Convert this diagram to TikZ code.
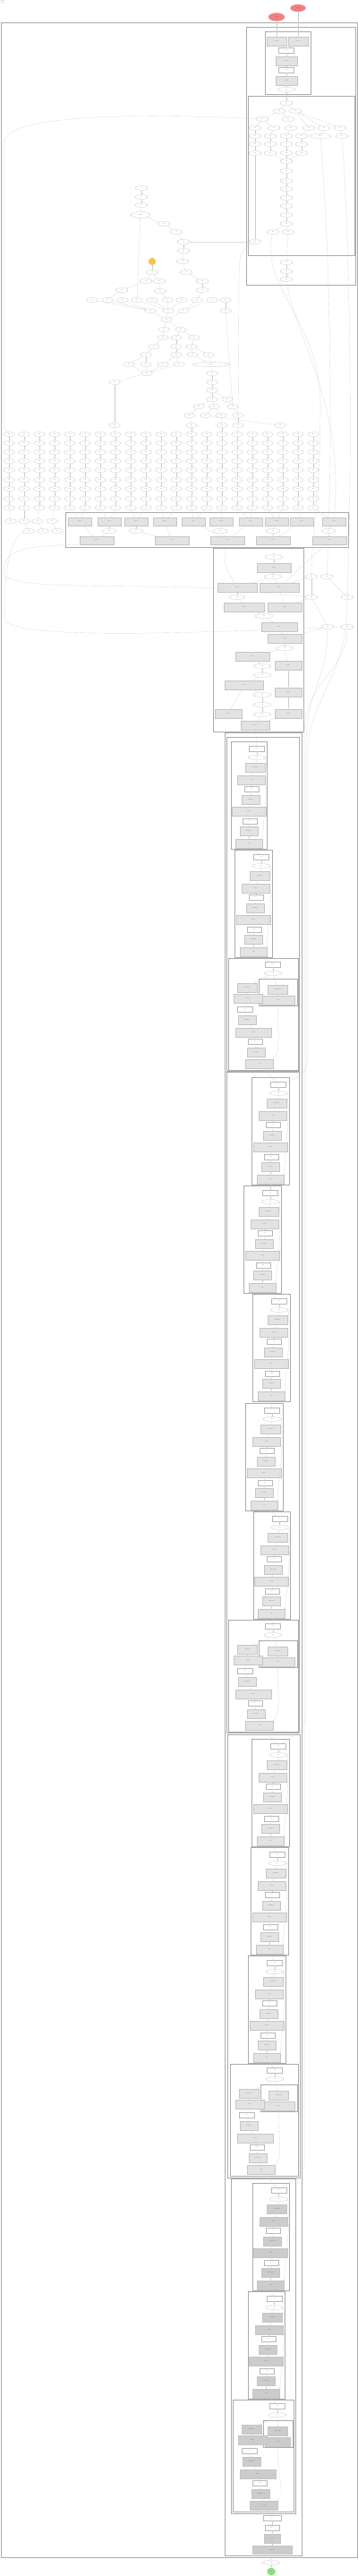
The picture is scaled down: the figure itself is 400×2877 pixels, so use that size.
\documentclass[tikz,border=0pt]{standalone}
\usepackage{tikz}
\usetikzlibrary{shapes.geometric,arrows.meta}

\definecolor{inred}{RGB}{240,128,128}
\definecolor{outgreen}{RGB}{128,230,120}
\definecolor{constyellow}{RGB}{245,200,70}

\pgfdeclarelayer{bg}
\pgfsetlayers{bg,main}

\tikzset{
  op/.style={ellipse, draw=gray!55, line width=0.2mm, fill=white, inner sep=0pt,
    minimum width=14mm, minimum height=5mm, font=\fontsize{2.6}{3}\selectfont},
  tensor/.style={rectangle, draw=gray!55, line width=0.2mm, fill=white, inner sep=0pt,
    minimum width=17mm, minimum height=5.5mm, font=\fontsize{2.6}{3}\selectfont},
  layer/.style={rectangle, draw=gray!45, line width=0.2mm, fill=gray!22, inner sep=0pt,
    minimum width=22mm, minimum height=10mm, align=center, font=\fontsize{2.6}{3}\selectfont},
  flow/.style={draw=gray!40, line width=0.15mm, -{Stealth[length=0.8mm,width=0.6mm]}},
  frame/.style={draw=gray!65, line width=0.8mm},
  framelabel/.style={anchor=north west, inner sep=0.5mm, font=\fontsize{2.6}{3}\selectfont, text=gray!70!black},
}

\begin{document}
\begin{tikzpicture}[x=1mm,y=-1mm]
  \begin{pgfonlayer}{bg}
    \fill[white] (0,0) rectangle (400,2877);
  \end{pgfonlayer}
  \useasboundingbox (0,0) rectangle (400,2877);

  \node[anchor=north west, align=left, inner sep=0pt, font=\fontsize{3}{3.6}\selectfont] (title) at (1,1) {model\\graph};

  % inputs
  \node[ellipse, draw=red!50, fill=inred, minimum width=17mm, minimum height=8mm, inner sep=0pt, font=\fontsize{2.6}{3}\selectfont] (in1) at (333,9) {input};
  \node[ellipse, draw=red!50, fill=inred, minimum width=18mm, minimum height=9mm, inner sep=0pt, font=\fontsize{2.6}{3}\selectfont] (in2) at (309,19) {image};

  % clusters
  \begin{pgfonlayer}{bg}
    \draw[frame] (1,25) rectangle (399,2856);
    \draw[frame] (275,30) rectangle (397,318);
    \draw[frame] (296,35) rectangle (347,105);
    \draw[frame] (277,107) rectangle (396,285);
    \draw[frame] (73,572) rectangle (389,611);
    \draw[frame] (238,612) rectangle (339,817);
    \draw[frame] (251,818) rectangle (337,2854);
    \draw[frame] (253,823) rectangle (334,1196);
    \draw[frame] (253,1197) rectangle (334,1935);
    \draw[frame] (254,1937) rectangle (335,2432);
    \draw[frame] (258,2433) rectangle (330,2807);
  \end{pgfonlayer}
  \node[framelabel] (lblmain) at (1,25) {model};
  \node[framelabel] (lblenc) at (275,30) {encoder};
  \node[framelabel] (lblstem) at (296,35) {stem};
  \node[framelabel] (lblfeat) at (277,107) {features};
  \node[framelabel] (lblhead) at (73,572) {heads};
  \node[framelabel] (lblfuse) at (238,612) {fuse};
  \node[framelabel] (lblnet) at (251,818) {backbone};
  \node[framelabel] (lbls1) at (253,823) {layer1};
  \node[framelabel] (lbls2) at (253,1197) {layer2};
  \node[framelabel] (lbls3) at (254,1937) {layer3};
  \node[framelabel] (lbls4) at (258,2433) {layer4};

  % stem
  \node[layer] (gA1) at (309,46) {Conv2D};
  \node[layer] (gA2) at (333,46) {Conv2D};
  \node[tensor] (wA1) at (320,56) {Concat};
  \node[layer, minimum width=24mm] (gA3) at (320,68) {Conv2D};
  \node[tensor] (wA2) at (320,78) {Relu};
  \node[layer, minimum width=24mm] (gA4) at (320,90) {Conv2D};
  \node[op, minimum width=20mm] (eA1) at (320,100) {Relu};
  \foreach \a/\b in {in2/gA1, in1/gA2, gA1/wA1, gA2/wA1, wA1/gA3, gA3/wA2, wA2/gA4, gA4/eA1}
    \draw[flow] (\a) -- (\b);

  % features
  \foreach \nm/\x/\y in {b1/320/115, b2/312/124, b3/330/124, b4/293/133, b5/322/133,
      b6/285/143, b7/306/143, b8/325/143, b9/345/143, b10/362/143, b11/380/143,
      b12/285/152, b13/302/152, b14/320/152, b15/337/152, b17/382/152,
      b18/285/161, b19/302/161, b20/320/161, b21/337/161,
      b22/285/171, b23/302/171, b24/320/171, b25/337/171,
      b26/320/180, b27/320/191, b28/320/202, b29/320/211, b30/320/221,
      b31/320/230, b32/320/240, b33/320/250, b34/305/259, b35/322/259, b36/285/270,
      r1/320/293, r2/320/303, r3/320/312}
    \node[op] (\nm) at (\x,\y) {Mul};
  \node[op, minimum width=24mm] (b16) at (358,152) {Reshape};
  \foreach \a/\b in {eA1/b1, b1/b2, b1/b3, b2/b4, b2/b5, b4/b6, b4/b7, b5/b8, b3/b9, b3/b10, b3/b11,
      b6/b12, b7/b13, b8/b14, b9/b15, b10/b16, b11/b17, b12/b18, b13/b19, b14/b20, b15/b21,
      b18/b22, b19/b23, b20/b24, b21/b25, b23/b26, b24/b26, b25/b26, b26/b27, b27/b28,
      b28/b29, b29/b30, b30/b31, b31/b32, b32/b33, b33/b34, b33/b35, b22/b36, b35/r1, r1/r2, r2/r3}
    \draw[flow] (\a) -- (\b);

  % upper tree
  \foreach \nm/\x/\y in {t1/158/210, t2/158/220, t3/158/229, t5/183/250, t6/197/259, t7/205/270,
      t8/205/280, t9/204/292, t10/208/304, t11/226/314, t12/226/324,
      t13/170/304, t14/163/314, t15/178/314, t16/136/324, t17/179/325}
    \node[op] (\nm) at (\x,\y) {Add};
  \node[op, minimum width=22mm, minimum height=7mm] (t4) at (157,240) {MatMul};
  \node[circle, draw=orange!60, fill=constyellow, minimum size=8mm, inner sep=0pt, font=\fontsize{2.6}{3}\selectfont] (y1) at (170,292) {w};

  \foreach \nm/\x/\y in {u1/103/335, u2/120/335, u3/137/335, u4/153/335, u5/170/335, u6/187/335,
      u7/203/335, u8/220/335, u9/237/335, u10/252/335, u11/168/347, u12/188/347, u13/205/347,
      u14/252/347, u15/186/357, u16/183/368, u17/202/368, u18/182/377, u19/197/377, u20/217/377,
      u21/172/387, u22/197/387, u23/214/387, u24/163/396, u25/197/396, u26/215/396, u27/233/396,
      u28/144/407, u29/163/407, u30/182/407, u31/200/407, u33/164/417, u34/237/417,
      u35/128/427, u36/237/427, u37/237/436, u38/237/446, u39/254/446, u40/222/454, u41/239/454,
      u42/260/454, u43/212/464, u44/230/464, u45/247/464, u46/266/464, u47/128/475, u48/214/475,
      u49/248/475, u50/266/475, u51/313/475}
    \node[op, minimum width=13mm] (\nm) at (\x,\y) {Mul};
  \node[op, minimum width=42mm] (u32) at (236,407) {Reshape};

  \foreach \a/\b in {t1/t2, t2/t3, t3/t4, t4/t5, t5/t6, t6/t7, t7/t8, t8/t9, t9/t10, t10/t11, t11/t12,
      y1/t13, t13/t14, t13/t15, t14/t16, t15/t17, t16/u2, t17/u6, t12/u8, t4/u4,
      u1/u11, u2/u11, u3/u11, u4/u12, u5/u12, u6/u12, u7/u12, u8/u13, u9/u13, u10/u14,
      u11/u15, u12/u15, u13/u15, u15/u16, u15/u17, u16/u18, u17/u19, u17/u20, u18/u21, u19/u22,
      u20/u23, u21/u24, u22/u25, u23/u26, u23/u27, u24/u28, u24/u29, u25/u30, u25/u31,
      u28/u33, u29/u33, u30/u33, u31/u33, u26/u32, u27/u32, u32/u34, u34/u36, u36/u37, u37/u38,
      u37/u39, u38/u40, u38/u41, u39/u42, u14/u42, u33/u35, u35/u47, u40/u43, u41/u44, u41/u45,
      u42/u46, u43/u48, u45/u49, u46/u50, u44/u51}
    \draw[flow] (\a) -- (\b);

  % dense grid of small ops
  \foreach \gy [count=\r] in {485,495,505,515,525,536,546,557,567}{
    \foreach \gx [count=\c] in {10,27,44,61,78,95,112,129,146,163,180,197,214,231,248,265,282,299,316,333,350}{
      \node[op, minimum width=13mm] (g\r-\c) at (\gx,\gy) {Mul};
    }
  }
  \foreach \r [evaluate=\r as \s using int(\r+1)] in {1,...,8}{
    \foreach \c in {1,...,21}{
      \draw[flow] (g\r-\c) -- (g\s-\c);
    }
  }
  \foreach \nm/\x/\y in {h1-1/12/582, h1-2/27/582, h1-3/42/582, h1-4/58/582,
      h2-2/32/593, h2-3/48/593, h2-4/64/593}
    \node[op, minimum width=13mm] (\nm) at (\x,\y) {Add};
  \foreach \a/\b in {g9-1/h1-1, g9-2/h1-2, g9-3/h1-3, g9-4/h1-4, h1-2/h2-2, h1-3/h2-3, h1-4/h2-4,
      u47/g1-8, u48/g1-13, u49/g1-15, u50/g1-16, u51/g1-19}
    \draw[flow] (\a) -- (\b);

  % heads
  \foreach \nm/\x in {cA1/89, cA2/122, cA3/152, cA4/184, cA5/216, cA6/247, cA7/280, cA8/309, cA9/337, cA10/373}
    \node[layer, minimum width=26mm, minimum height=9mm] (\nm) at (\x,582.5) {Conv2D};
  \foreach \nm/\x in {cB1/122, cB2/152, cB3/246, cB4/305, cB5/367}
    \node[op, minimum width=16mm] (\nm) at (\x,593) {Relu};
  \foreach \nm/\x in {cC1/108, cC2/192, cC3/254, cC4/305, cC5/368}
    \node[layer, minimum width=38mm, minimum height=9mm] (\nm) at (\x,603.5) {Conv2D};
  \foreach \a/\b in {g9-5/cA1, g9-6/cA1, g9-7/cA2, g9-8/cA2, g9-9/cA3, g9-10/cA3, g9-11/cA4,
      g9-12/cA4, g9-13/cA5, g9-14/cA5, g9-15/cA6, g9-16/cA7, g9-17/cA7, g9-18/cA8, g9-19/cA8,
      g9-20/cA9, g9-21/cA10,
      cA2/cB1, cA3/cB2, cA6/cB3, cA8/cB4, cA10/cB5, cA1/cC1, cB1/cC1, cB2/cC2, cA4/cC2,
      cA5/cC3, cA7/cC3, cB3/cC3, cB4/cC4, cA9/cC4, cB5/cC5}
    \draw[flow] (\a) -- (\b);

  % fuse
  \foreach \nm/\x/\y/\w in {d1/306/622/20, d3/305/644/20, d6/265/667/18, d9/295/688/20,
      d12/318/724/20, d14/293/744/20, d16/293/754/20, d19/293/776/20, d20/293/787/20, d22/293/798/20}
    \node[op, minimum width=\w mm] (\nm) at (\x,\y) {Relu};
  \foreach \nm/\x/\y/\w in {d2/306/634/38, d4/265/656/44, d5/312/656/44, d7/273/678/45, d8/318/678/38,
      d10/312/700/40, d11/318/713/38, d13/282/733/38, d15/322/743/30, d17/273/765/43,
      d18/322/773/30, d21/255/797/30, d23/322/797/30, d24/285/810/32}
    \node[layer, minimum width=\w mm] (\nm) at (\x,\y) {Conv2D};
  \foreach \nm/\x/\y in {e1/348/644, e2/365/644, e3/348/667, e4/388/667, e5/366/700, e6/388/700}
    \node[op] (\nm) at (\x,\y) {Mul};
  \foreach \a/\b in {cC4/d1, cC5/d5, d1/d2, d2/d3, d3/d4, d3/d5, d4/d6, d6/d7, d5/d8, d7/d9, d8/d9,
      d9/d10, d10/d11, d11/d12, d12/d13, d12/d15, d13/d14, d14/d16, d15/d18, d16/d17, d17/d19,
      d19/d20, d17/d21, d18/d23, d20/d22, d21/d24, d22/d24, d23/d24,
      e1/d5, e1/e3, e2/e4, e3/d8, e3/e5, e5/d11}
    \draw[flow] (\a) -- (\b);

  % normal residual blocks
  \foreach \n/\xa/\xb/\ya/\tone in {1/258/298/828/22, 2/262/304/949/22, 4/281/323/1203/22,
      5/272/314/1324/22, 6/282/324/1445/22, 7/274/316/1567/22, 8/283/324/1688/22,
      10/281/323/1942/22, 11/280/322/2063/22, 12/277/319/2184/22, 14/282/323/2438/40,
      15/277/318/2559/40}{
    \pgfmathsetmacro{\cx}{(\xa+\xb)/2}
    \begin{pgfonlayer}{bg}
      \draw[frame] (\xa,\ya) rectangle (\xb,\ya+120);
    \end{pgfonlayer}
    \node[framelabel] (blk\n) at (\xa,\ya) {block};
    \node[tensor] (k\n-1) at (\cx+9,\ya+8) {Pad};
    \node[op, minimum width=20mm] (k\n-2) at (\cx+9,\ya+18) {Relu};
    \node[layer, fill=gray!\tone] (k\n-3) at (\cx+7,\ya+29) {BatchNorm};
    \node[layer, fill=gray!\tone, minimum width=31mm] (k\n-4) at (\cx+3,\ya+43) {Conv2D};
    \node[tensor, minimum width=16mm] (k\n-5) at (\cx+3,\ya+53) {Pad};
    \node[layer, fill=gray!\tone, minimum width=20mm] (k\n-6) at (\cx+2,\ya+65) {BatchNorm};
    \node[layer, fill=gray!\tone, minimum width=38mm] (k\n-7) at (\cx,\ya+78) {Conv2D};
    \node[tensor, minimum width=16mm] (k\n-8) at (\cx+1,\ya+89) {Relu};
    \node[layer, fill=gray!\tone, minimum width=20mm] (k\n-9) at (\cx,\ya+100) {BatchNorm};
    \node[layer, fill=gray!\tone, minimum width=30mm, alias=k\n-end] (k\n-10) at (\cx,\ya+114) {Add};
    \foreach \i [evaluate=\i as \j using int(\i+1)] in {1,...,9}
      \draw[flow] (k\n-\i) -- (k\n-\j);
    \draw[flow] (k\n-2.east) .. controls +(3,30) and +(3,-40) .. (k\n-10.north east);
  }

  % downsampling blocks
  \foreach \n/\xa/\xb/\ya/\tone in {3/255/333/1070/22, 9/255/333/1809/22, 13/257/333/2305/22,
      16/260/328/2680/40}{
    \pgfmathsetmacro{\sx}{(\xa+\xb+33)/2}
    \pgfmathsetmacro{\sw}{\xb-\xa-40}
    \begin{pgfonlayer}{bg}
      \draw[frame] (\xa,\ya) rectangle (\xb,\ya+125);
      \draw[frame] (\xa+34,\ya+23) rectangle (\xb-1,\ya+53);
    \end{pgfonlayer}
    \node[framelabel] (blk\n) at (\xa,\ya) {block};
    \node[framelabel] (sc\n) at (\xa+34,\ya+23) {shortcut};
    \node[tensor] (k\n-1) at (\xa+50,\ya+7) {Pad};
    \node[op, minimum width=20mm] (k\n-2) at (\xa+50,\ya+17) {Relu};
    \node[layer, fill=gray!\tone] (k\n-3) at (\sx,\ya+35) {BatchNorm};
    \node[layer, fill=gray!\tone, minimum width=\sw mm] (k\n-4) at (\sx,\ya+47) {Conv2D};
    \node[layer, fill=gray!\tone] (k\n-5) at (\xa+21,\ya+33) {BatchNorm};
    \node[layer, fill=gray!\tone, minimum width=32mm] (k\n-6) at (\xa+22,\ya+45) {Conv2D};
    \node[tensor] (k\n-7) at (\xa+19,\ya+57) {Pad};
    \node[layer, fill=gray!\tone, minimum width=20mm] (k\n-8) at (\xa+21,\ya+69) {BatchNorm};
    \node[layer, fill=gray!\tone, minimum width=40mm] (k\n-9) at (\xa+28,\ya+83) {Conv2D};
    \node[tensor, minimum width=16mm] (k\n-10) at (\xa+30,\ya+93) {Relu};
    \node[layer, fill=gray!\tone, minimum width=20mm] (k\n-11) at (\xa+31,\ya+105) {BatchNorm};
    \node[layer, fill=gray!\tone, minimum width=31mm, alias=k\n-end] (k\n-12) at (\xa+35,\ya+118) {Add};
    \foreach \a/\b in {1/2, 2/3, 3/4, 2/5, 5/6, 6/7, 7/8, 8/9, 9/10, 10/11, 11/12}
      \draw[flow] (k\n-\a) -- (k\n-\b);
    \draw[flow] (k\n-4.south) .. controls +(0,40) and +(8,-10) .. (k\n-12.north east);
  }

  \foreach \a [evaluate=\a as \b using int(\a+1)] in {1,...,15}
    \draw[flow] (k\a-end) -- (k\b-1);
  \draw[flow] (d24) -- (k1-1);

  % output
  \node[tensor, minimum width=20mm] (f1) at (304,2812) {Pool};
  \node[tensor, minimum width=16mm] (f2) at (304,2823) {Flatten};
  \node[layer, fill=gray!40, minimum width=18mm] (f3) at (304,2835) {Dense};
  \node[layer, fill=gray!40, minimum width=44mm, minimum height=9mm] (f4) at (304,2848) {Softmax};
  \node[op, minimum width=19mm] (out1) at (303,2862) {output};
  \node[ellipse, draw=green!50!black!50, fill=outgreen, minimum width=9mm, minimum height=8mm, inner sep=0pt, font=\fontsize{2.6}{3}\selectfont] (out2) at (303,2872) {out};
  \foreach \a/\b in {k16-end/f1, f1/f2, f2/f3, f3/f4, f4/out1, out1/out2}
    \draw[flow] (\a) -- (\b);

  % long connectors
  \begin{pgfonlayer}{bg}
    \draw[flow] (b4) .. controls (150,126) and (4,128) .. (4,160) -- (4,465) .. controls (4,478) .. (g1-1);
    \draw[flow] (cC1.south west) .. controls (20,610) and (4,615) .. (4,640) .. controls (4,660) and (150,652) .. (240,657) -- (e3);
    \draw[flow] (h2-2) .. controls (10,600) and (5,640) .. (5,690) .. controls (5,712) and (150,710) .. (e6);
    \draw[flow] (b36) .. controls (250,270) .. (t7);
    \draw[flow] (b36) .. controls (267,282) .. (267,330) -- (u46);
    \draw[flow] (b34) .. controls (290,320) and (358,360) .. (358,450) .. controls (358,560) and (348,600) .. (e1);
    \draw[flow] (b16) .. controls (370,300) and (372,500) .. (e2);
    \draw[flow] (b17) .. controls (393,300) and (393,550) .. (e4);
    \draw[flow] (r3) .. controls (330,380) and (385,450) .. (cA10);
    \draw[flow] (cC3) .. controls (250,630) .. (d4);
    \draw[flow] (e4) .. controls (388,760) and (344,780) .. (344,840) -- (344,1180) .. controls (344,1200) and (330,1205) .. (k4-1);
    \draw[flow] (e5) .. controls (366,760) and (342,770) .. (342,830) -- (342,1915) .. controls (342,1935) and (325,1940) .. (k10-1);
    \draw[flow] (e6) .. controls (388,750) and (340,760) .. (340,820) -- (340,2415) .. controls (340,2430) and (325,2436) .. (k14-1);
  \end{pgfonlayer}
\end{tikzpicture}
\end{document}
